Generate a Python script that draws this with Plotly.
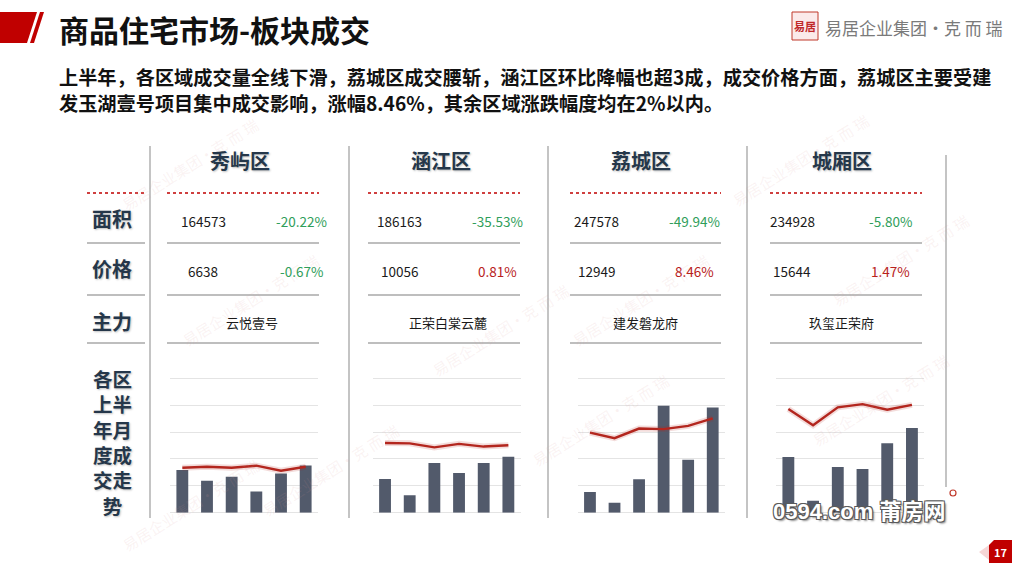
import plotly.graph_objects as go

W, H = 1024, 576

# ---------------- data ----------------
months = ["1月", "2月", "3月", "4月", "5月", "6月"]
districts = ["秀屿区", "涵江区", "荔城区", "城厢区"]
area = [164573, 186163, 247578, 234928]
area_chg = ["-20.22%", "-35.53%", "-49.94%", "-5.80%"]
price = [6638, 10056, 12949, 15644]
price_chg = ["-0.67%", "0.81%", "8.46%", "1.47%"]
main_proj = ["云悦壹号", "正荣白棠云麓", "建发磐龙府", "玖玺正荣府"]
row_labels = ["面积", "价格", "主力"]
trend_label = ["各区", "上半", "年月", "度成", "交走", "势"]

# monthly volume (bars) and price (line) in grid units
vol_xiuyu = [1.59, 1.19, 1.34, 0.79, 1.46, 1.76]
vol_hanjiang = [1.25, 0.65, 1.85, 1.48, 1.85, 2.08]
vol_licheng = [0.77, 0.37, 1.24, 3.98, 1.97, 3.91]
vol_chengxiang = [2.07, 0.44, 1.70, 1.63, 2.58, 3.15]
prc_xiuyu = [1.67, 1.71, 1.67, 1.75, 1.56, 1.71]
prc_hanjiang = [2.59, 2.58, 2.43, 2.56, 2.46, 2.51]
prc_licheng = [2.98, 2.77, 3.13, 3.11, 3.23, 3.51]
prc_chengxiang = [3.86, 3.25, 3.92, 4.04, 3.83, 4.01]
volumes = [vol_xiuyu, vol_hanjiang, vol_licheng, vol_chengxiang]
prices = [prc_xiuyu, prc_hanjiang, prc_licheng, prc_chengxiang]

title = "商品住宅市场-板块成交"
sub1 = "上半年，各区域成交量全线下滑，荔城区成交腰斩，涵江区环比降幅也超3成，成交价格方面，荔城区主要受建"
sub2 = "发玉湖壹号项目集中成交影响，涨幅8.46%，其余区域涨跌幅度均在2%以内。"
logo_text = "易居企业集团·克 而 瑞"
page_no = "17"
wm_text = "0594.com 莆房网"

# ---------------- layout helpers ----------------
def X(p):
    return p / W

def Y(p):
    return 1 - p / H

FONT = "Noto Sans CJK SC"
NAVY = "#25374a"
RED = "#b8211b"
GREEN = "#2f9e5a"
BAR = "#525a6b"
HSHADOW = "1px 1px 2px rgba(0,0,0,0.25)"

chart_x = [(170, 318), (372.7, 520.7), (577.7, 725), (776, 924.3)]
col_seg = [(167, 319), (368, 520), (570, 721), (770, 922)]
header_cx = [240, 441, 641, 842]
val_cx = [203, 399, 596, 792]
chg_cx = [301, 497, 694, 890]
name_cx = [252, 448, 645, 841]

fig = go.Figure()
layout_axes = {}
for i in range(4):
    sfx = "" if i == 0 else str(i + 1)
    fig.add_trace(go.Bar(x=months, y=volumes[i], xaxis="x" + sfx, yaxis="y" + sfx,
                         marker=dict(color=BAR, line=dict(width=0)), width=0.48,
                         showlegend=False, hoverinfo="skip"))
    fig.add_trace(go.Scatter(x=months, y=prices[i], xaxis="x" + sfx, yaxis="y" + sfx,
                             mode="lines", line=dict(color="rgba(180,40,30,0.16)", width=6),
                             showlegend=False, hoverinfo="skip"))
    fig.add_trace(go.Scatter(x=months, y=prices[i], xaxis="x" + sfx, yaxis="y" + sfx,
                             mode="lines", line=dict(color="#b3261e", width=2.4),
                             showlegend=False, hoverinfo="skip"))
    x0, x1 = chart_x[i]
    layout_axes["xaxis" + sfx] = dict(domain=[X(x0), X(x1)], type="category",
                                      range=[-0.5, 5.5], showticklabels=False,
                                      showgrid=False, zeroline=False, ticks="",
                                      anchor="y" + sfx, fixedrange=True)
    layout_axes["yaxis" + sfx] = dict(domain=[Y(512.7), Y(375.6)], range=[0, 5.1],
                                      dtick=1, showticklabels=False, ticks="",
                                      showgrid=True, gridcolor="#e4e4e4", gridwidth=1,
                                      zeroline=True, zerolinecolor="#e4e4e4",
                                      zerolinewidth=1, anchor="x" + sfx, fixedrange=True)

shapes = []
ann = []

def line(x0, y0, x1, y1, color, width=1, dash="solid"):
    shapes.append(dict(type="line", xref="paper", yref="paper", x0=X(x0), y0=Y(y0),
                       x1=X(x1), y1=Y(y1), line=dict(color=color, width=width, dash=dash)))

def text(x, y, s, size, color, bold=False, xanchor="center", family=FONT, shadow=None, **kw):
    f = dict(family=family, size=size, color=color)
    if shadow:
        f["shadow"] = shadow
    ann.append(dict(x=X(x), y=Y(y), xref="paper", yref="paper", text=("<b>%s</b>" % s) if bold else s,
                    showarrow=False, xanchor=xanchor, yanchor="middle", font=f, **kw))

# faint diagonal watermarks
wm_pos = [(190, 165), (500, 330), (800, 160), (250, 300), (640, 300), (880, 400),
          (190, 505), (900, 260), (600, 420), (330, 470)]
for (wx, wy) in wm_pos:
    text(wx, wy, "易居企业集团·克 而 瑞", 15, "rgba(215,150,150,0.12)", textangle=-32)

# header decoration
shapes.append(dict(type="path", xref="paper", yref="paper",
                   path="M %f %f L %f %f L %f %f L %f %f Z" % (X(0), Y(12), X(37), Y(12), X(27), Y(43), X(0), Y(43)),
                   fillcolor="#c00000", line=dict(width=0)))
shapes.append(dict(type="path", xref="paper", yref="paper",
                   path="M %f %f L %f %f L %f %f L %f %f Z" % (X(40), Y(12), X(44), Y(12), X(34), Y(43), X(30), Y(43)),
                   fillcolor="#c00000", line=dict(width=0)))
text(57, 29, title, 30, "#111111", bold=True, xanchor="left")
text(57, 77, sub1, 19.2, "#111111", bold=True, xanchor="left")
text(57, 103, sub2, 19.2, "#111111", bold=True, xanchor="left")

# logo
shapes.append(dict(type="rect", xref="paper", yref="paper", x0=X(792), y0=Y(40), x1=X(818), y1=Y(12),
                   fillcolor="#fbeaea", line=dict(color="#c0392b", width=1)))
text(805, 26.5, "易居", 11, "#c0282a", bold=True)
text(823, 27, logo_text, 17, "#7a7a7a", xanchor="left")

# column separators
for sx in [150, 349, 548, 747]:
    line(sx, 146, sx, 518, "#c4c4c4", 2)
line(946, 155, 946, 487, "#c4c4c4", 2)

# table rules
for (a, b) in [(87, 145)] + col_seg:
    line(a, 193, b, 193, "#c00000", 1.5, "dot")
    for yy in [243, 295, 343]:
        line(a, yy, b, yy, "#a8a8a8", 1.5)

# row labels
for lab, yy in zip(row_labels, [219, 268, 321]):
    text(112, yy, lab, 20, NAVY, bold=True, shadow=HSHADOW)
text(112, 442, "<br>".join(trend_label), 19.5, NAVY, bold=True, shadow=HSHADOW)

# district columns
for i in range(4):
    text(header_cx[i], 161, districts[i], 20, NAVY, bold=True, shadow=HSHADOW)
    text(val_cx[i], 221, str(area[i]), 13.5, "#1a1a1a")
    text(chg_cx[i], 221, area_chg[i], 13.5, GREEN if area_chg[i].startswith("-") else RED)
    text(val_cx[i], 271, str(price[i]), 13.5, "#1a1a1a")
    text(chg_cx[i], 271, price_chg[i], 13.5, GREEN if price_chg[i].startswith("-") else RED)
    text(name_cx[i], 322, main_proj[i], 13, "#1a1a1a")

# site watermark with outline (CSS text shadow)
outline = ("-1px -1px 0 #5a5a5a, 1px -1px 0 #5a5a5a, -1px 1px 0 #5a5a5a, 1px 1px 0 #5a5a5a, "
           "2px 2px 2px rgba(0,0,0,0.45)")
text(859, 511, wm_text, 22, "#ffffff", bold=True, family="Liberation Sans, " + FONT, shadow=outline)
shapes.append(dict(type="circle", xref="paper", yref="paper", x0=X(950), y0=Y(496), x1=X(956), y1=Y(490),
                   line=dict(color="#c0392b", width=1.2), fillcolor="white"))

# page number
shapes.append(dict(type="path", xref="paper", yref="paper",
                   path="M %f %f L %f %f L %f %f Z" % (X(979), Y(552), X(989), Y(545), X(989), Y(560)),
                   fillcolor="#f6d6d6", line=dict(width=0)))
shapes.append(dict(type="path", xref="paper", yref="paper",
                   path="M %f %f L %f %f L %f %f L %f %f L %f %f Z" % (X(989), Y(545), X(994), Y(540), X(1012), Y(540),
                                                                   X(1012), Y(563), X(989), Y(563)),
                   fillcolor="#c00000", line=dict(width=0)))
text(1000.5, 552, page_no, 11, "#ffffff", bold=True)

fig.update_layout(width=W, height=H, margin=dict(l=0, r=0, t=0, b=0),
                  paper_bgcolor="white", plot_bgcolor="rgba(0,0,0,0)",
                  shapes=shapes, annotations=ann, bargap=0.5, **layout_axes)

fig.write_html("out.html", config={"displayModeBar": False})
